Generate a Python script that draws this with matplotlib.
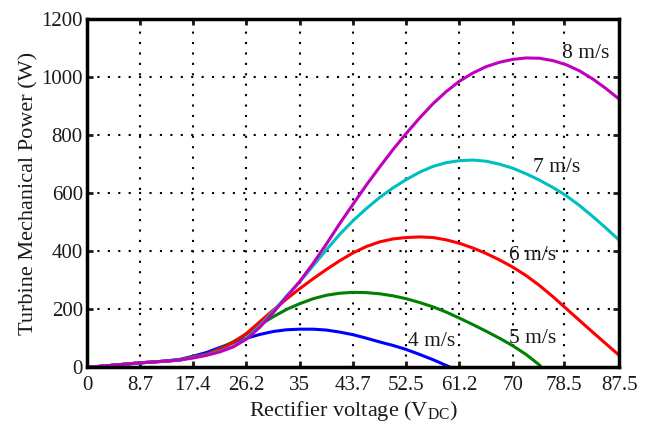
import matplotlib
matplotlib.use("Agg")
import matplotlib.pyplot as plt

plt.rcParams['font.family'] = ['Liberation Serif', 'DejaVu Serif']
plt.rcParams['mathtext.fontset'] = 'custom'
plt.rcParams['mathtext.rm'] = 'Liberation Serif'

xticks = [0, 8.7, 17.4, 26.2, 35, 43.7, 52.5, 61.2, 70, 78.5, 87.5]
xtick_labels = ['0', '8.7', '17.4', '26.2', '35', '43.7', '52.5', '61.2', '70', '78.5', '87.5']
yticks = [0, 200, 400, 600, 800, 1000, 1200]

# Rectifier voltage sample points (V)
v = [0, 2.19, 4.38, 6.56, 8.75, 10.94, 13.13, 15.31, 17.5, 19.69,
     21.88, 24.06, 26.25, 28.44, 30.63, 32.81, 35, 37.19, 39.38, 41.56,
     43.75, 45.94, 48.13, 50.31, 52.5, 54.69, 56.88, 59.06, 61.25, 63.44,
     65.63, 67.81, 70, 72.19, 74.38, 76.56, 78.75, 80.94, 83.13, 85.31, 87.5]

# 8 m/s
p8 = [0, 3, 7, 11, 15, 18, 21, 25, 32, 41,
      53, 70, 97, 138, 188, 242, 296, 358, 425, 495,
      562, 628, 690, 750, 806, 859, 908, 950, 986, 1014,
      1036, 1051, 1061, 1066, 1065, 1057, 1043, 1022, 994, 961, 924]
# 7 m/s
p7 = [0, 3, 7, 11, 15, 18, 21, 25, 33, 42,
      55, 72, 100, 143, 193, 245, 295, 350, 405, 458,
      505, 547, 585, 618, 647, 672, 692, 705, 712, 714,
      710, 700, 686, 667, 645, 620, 592, 558, 520, 480, 438]
# 6 m/s
p6 = [0, 3, 7, 11, 15, 18, 21, 25, 35, 44,
      62, 85, 117, 157, 197, 235, 271, 305, 337, 367,
      394, 416, 432, 442, 447, 449, 447, 439, 427, 411,
      392, 370, 345, 316, 282, 244, 203, 162, 121, 81, 41]
# 5 m/s
v5 = [0, 2.19, 4.38, 6.56, 8.75, 10.94, 13.13, 15.31, 17.5, 19.69,
      21.88, 24.06, 26.25, 28.44, 30.63, 32.81, 35, 37.19, 39.38, 41.56,
      43.75, 45.94, 48.13, 50.31, 52.5, 54.69, 56.88, 59.06, 61.25, 63.44,
      65.63, 67.81, 70, 72.19, 74.38, 74.7]
p5 = [0, 3, 7, 11, 15, 18, 21, 25, 36, 45,
      64, 88, 114, 146, 174, 199, 219, 236, 248, 255,
      258, 257, 253, 246, 236, 223, 208, 190, 169, 147,
      124, 100, 74, 44, 8, 0]
# 4 m/s
v4 = [0, 2.19, 4.38, 6.56, 8.75, 10.94, 13.13, 15.31, 17.5, 19.69,
      21.88, 24.06, 26.25, 28.44, 30.63, 32.81, 35, 37.19, 39.38, 41.56,
      43.75, 45.94, 48.13, 50.31, 52.5, 54.69, 56.88, 59.06, 59.7]
p4 = [0, 3, 7, 11, 15, 18, 22, 27, 38, 51,
      68, 85, 100, 113, 123, 129, 131, 131, 128, 121,
      112, 100, 87, 75, 61, 44, 26, 6, 0]

labels = ['4 m/s', '5 m/s', '6 m/s', '7 m/s', '8 m/s']
label_pos = [(56.7, 90), (73.2, 100), (73.2, 386), (77.3, 688), (82.0, 1080)]

fig = plt.figure(figsize=(6.49, 4.24), dpi=100)
ax = fig.add_axes([0.134, 0.134, 0.820, 0.821])

ax.plot(v4, p4, color='#0000FF', lw=2.2)
ax.plot(v5, p5, color='#008000', lw=2.2)
ax.plot(v, p6, color='#FF0000', lw=2.2)
ax.plot(v, p7, color='#00BFBF', lw=2.2)
ax.plot(v, p8, color='#BF00BF', lw=2.2)

for lab, (x, y) in zip(labels, label_pos):
    ax.text(x, y, lab, fontsize=15.5, ha='center', va='center', color='#1a1a1a')

ax.set_xlim(0, 87.5)
ax.set_ylim(0, 1200)
ax.set_xticks(xticks)
ax.set_xticklabels(xtick_labels)
ax.set_yticks(yticks)
ax.tick_params(direction='in', length=4, width=2, top=True, right=True,
               labelsize=15, pad=3, colors='#1a1a1a')
ax.tick_params(axis='x', pad=6)
ax.grid(True, color='black', linestyle=(0, (1, 4)), lw=1.5)
for s in ax.spines.values():
    s.set_linewidth(2.5)

ax.set_xlabel(r'Rectifier voltage (V$_{\mathrm{DC}}$)', fontsize=16, color='#1a1a1a', labelpad=3)
ax.set_ylabel('Turbine Mechanical Power (W)', fontsize=16, color='#1a1a1a', labelpad=2)

fig.savefig('out.png', dpi=100)
